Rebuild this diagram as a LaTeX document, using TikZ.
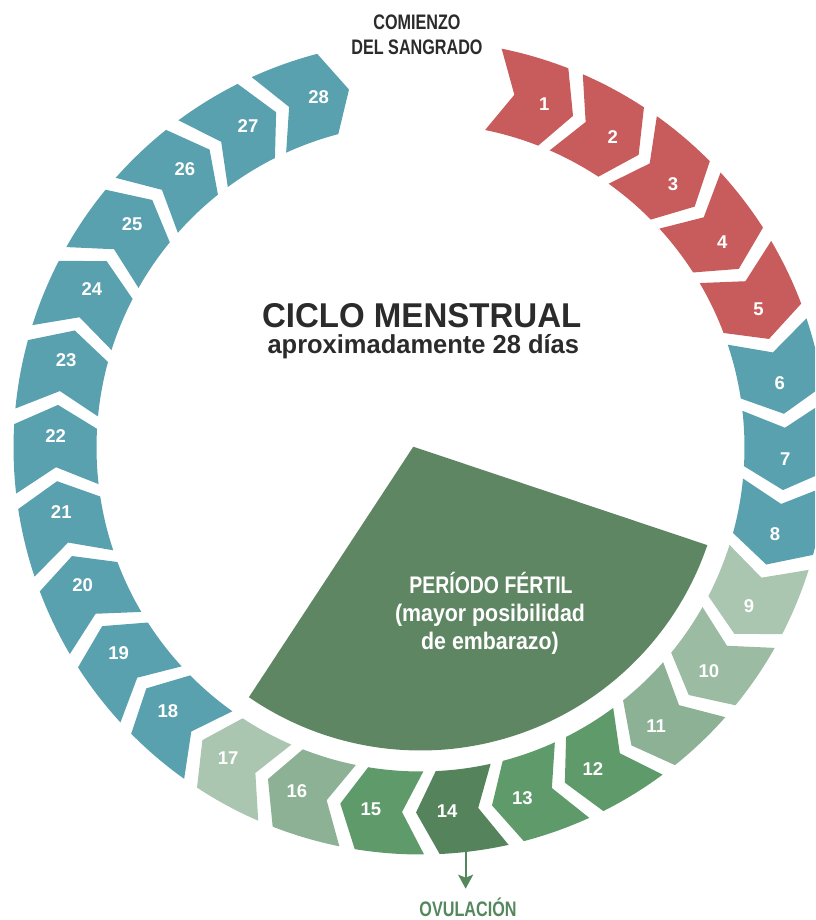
\documentclass[tikz,border=0pt]{standalone}
\usepackage{fontspec}
\setmainfont{Liberation Sans}
\usepackage{graphicx}
\usetikzlibrary{arrows.meta}
\definecolor{cred}{HTML}{C85B5B}
\definecolor{cteal}{HTML}{5AA1AF}
\definecolor{gA}{HTML}{AAC5B0}
\definecolor{gB}{HTML}{9BBBA3}
\definecolor{gC}{HTML}{8CB195}
\definecolor{gD}{HTML}{5F9B6A}
\definecolor{gE}{HTML}{55835C}
\definecolor{fert}{HTML}{5F8663}
\definecolor{darkt}{HTML}{2B2B2B}
\definecolor{ovg}{HTML}{55875E}
\tikzset{
  numlabel/.style={text=white, inner sep=0pt, font=\bfseries\fontsize{18.5}{20}\selectfont},
  darktext/.style={text=darkt, inner sep=0pt, anchor=base},
  whitetext/.style={text=white, inner sep=0pt, anchor=base, font=\bfseries\fontsize{24}{28}\selectfont},
  ovuarrow/.style={draw=ovg, line width=2pt, -{Stealth[length=14pt,width=15pt,inset=3pt]}},
}
\begin{document}
\begin{tikzpicture}[x=1pt,y=1pt]
\useasboundingbox (0,0) rectangle (815,920);
\clip (0,0) rectangle (815,920);
\begin{scope}[shift={(420.5,472.5)}]
  % fertile period sector
  \fill[fert] (-7.2,0.8) -- (-18.8:303) arc[start angle=-18.8, end angle=-124.5, radius=303] -- cycle;
  % day chevrons
  \foreach \k/\col in {1/cred,2/cred,3/cred,4/cred,5/cred,6/cteal,7/cteal,8/cteal,
    9/gA,10/gB,11/gC,12/gD,13/gD,14/gE,15/gD,16/gC,17/gA,
    18/cteal,19/cteal,20/cteal,21/cteal,22/cteal,23/cteal,24/cteal,25/cteal,26/cteal,27/cteal,28/cteal}{
    \pgfmathsetmacro\ca{72-12*(\k-1)-1.8}
    \pgfmathsetmacro\bo{\ca+8.3}
    \pgfmathsetmacro\ba{\ca+4.9}
    \pgfmathsetmacro\fo{\ca-1.5}
    \pgfmathsetmacro\fa{\ca-4.9}
    \fill[\col] (\bo:407) arc[start angle=\bo, end angle=\fo, radius=407]
      -- (\fa:365) -- (\fo:324) arc[start angle=\fo, end angle=\bo, radius=324]
      -- (\ba:365) -- cycle;
    \node[numlabel] (d\k) at (\ca:365) {\k};
  }
  \coordinate (ovtop) at (-83.6:405);
\end{scope}
% texts
\node[darktext, font=\bfseries\fontsize{21}{24}\selectfont] (com1) at (417,890) {\scalebox{0.77}[1]{COMIENZO}};
\node[darktext, font=\bfseries\fontsize{21}{24}\selectfont] (com2) at (417,865) {\scalebox{0.77}[1]{DEL SANGRADO}};
\node[darktext, font=\bfseries\fontsize{34.4}{38}\selectfont] (title) at (421.7,592.7) {\scalebox{0.96}[1]{CICLO MENSTRUAL}};
\node[darktext, font=\bfseries\fontsize{26}{30}\selectfont] (sub) at (423.3,566.7) {\scalebox{0.98}[1]{aproximadamente 28 días}};
\node[whitetext] (f1) at (491,326) {\scalebox{0.81}[1]{PERÍODO FÉRTIL}};
\node[whitetext] (f2) at (490,298.3) {\scalebox{0.89}[1]{(mayor posibilidad}};
\node[whitetext] (f3) at (490,270) {\scalebox{0.89}[1]{de embarazo)}};
\node[text=ovg, inner sep=0pt, anchor=base, font=\bfseries\fontsize{21}{24}\selectfont] (ovu) at (468,3.5) {\scalebox{0.77}[1]{OVULACIÓN}};
\draw[ovuarrow, shorten >=9pt] (ovtop) -- (ovtop |- ovu.north);
\end{tikzpicture}
\end{document}
